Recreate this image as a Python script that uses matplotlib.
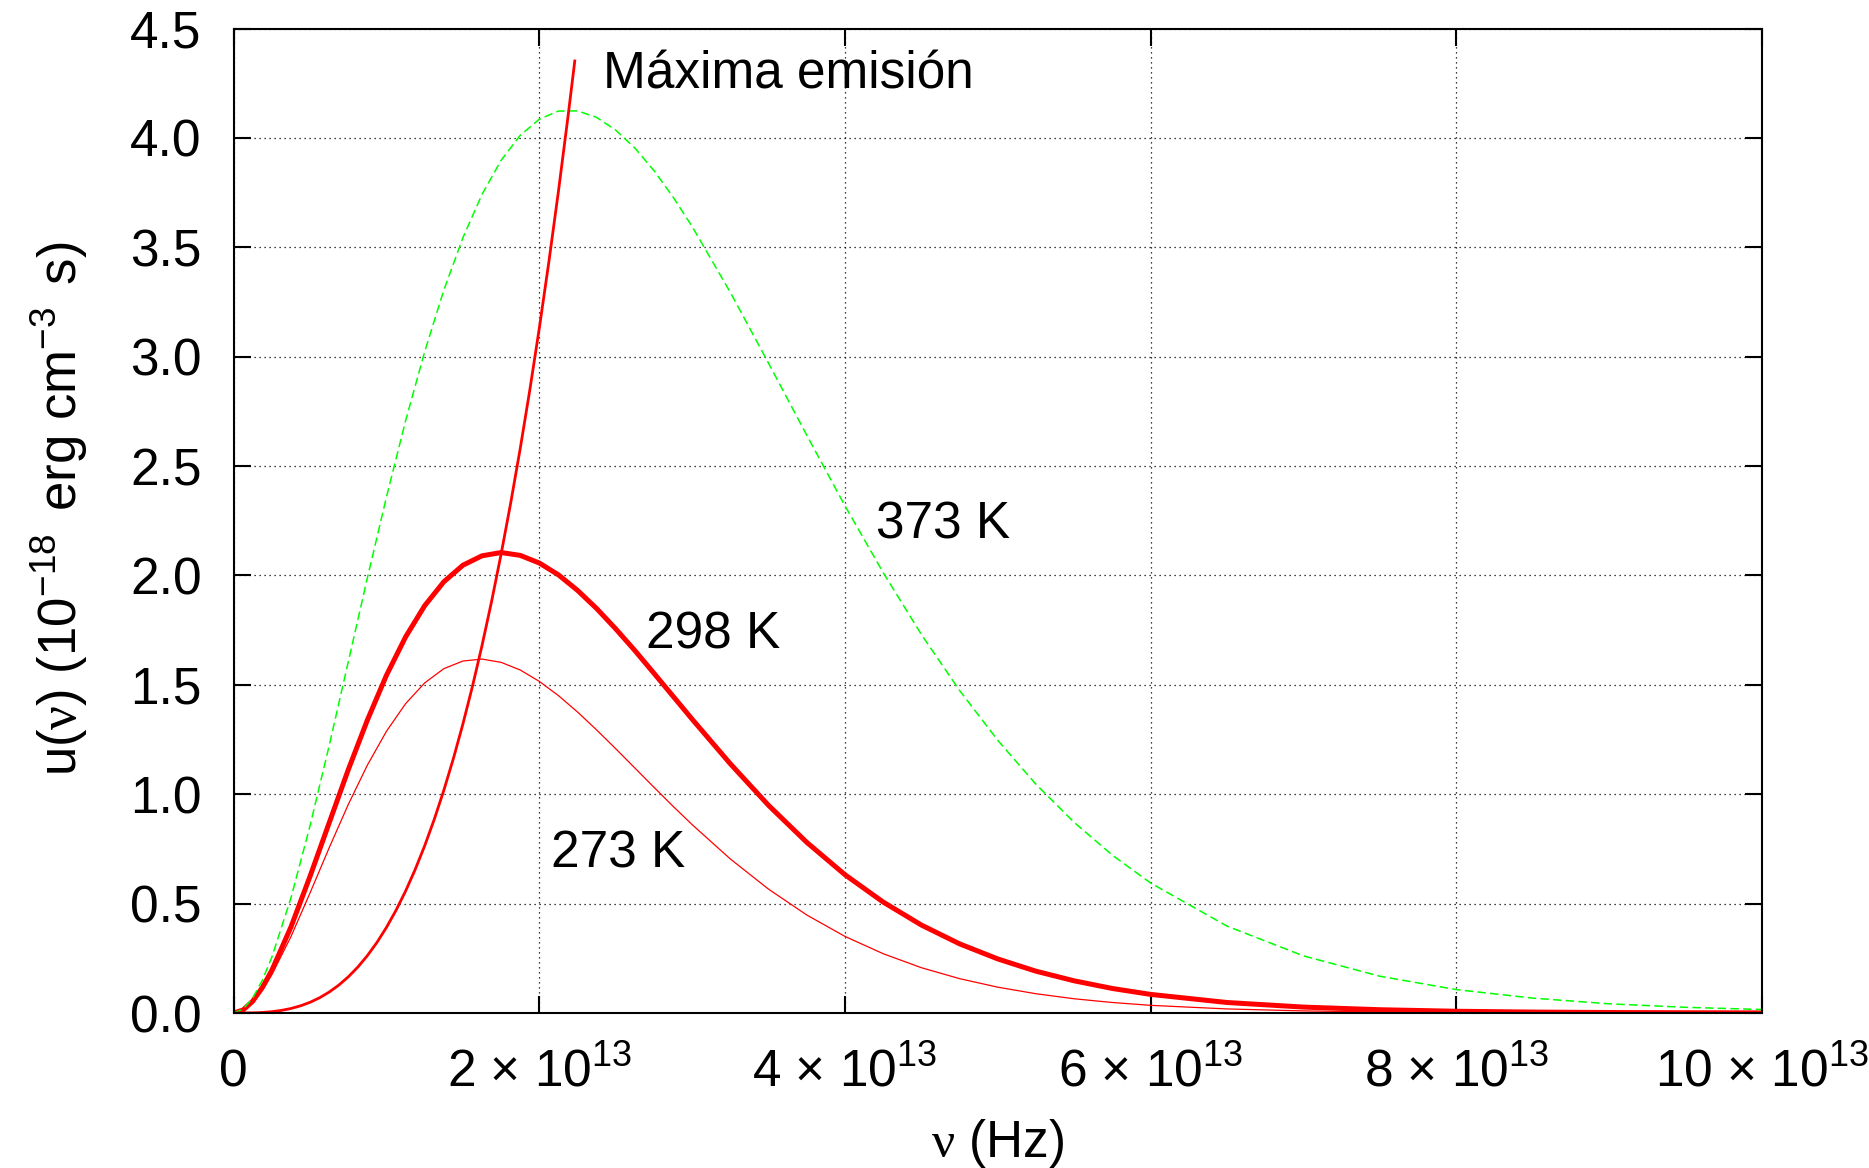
import matplotlib
matplotlib.use("Agg")
import matplotlib.pyplot as plt

# frequency in units of 1e13 Hz, u in units of 1e-18 erg cm^-3 s
nu = [0, 0.0625, 0.125, 0.1875, 0.25, 0.375, 0.5, 0.625, 0.75, 0.875, 1.0, 1.125, 1.25,
      1.375, 1.5, 1.625, 1.75, 1.875, 2.0, 2.125, 2.25, 2.375, 2.5, 2.625, 2.75, 2.875,
      3.0, 3.25, 3.5, 3.75, 4.0, 4.25, 4.5, 4.75, 5.0, 5.25, 5.5, 5.75, 6.0, 6.5, 7.0,
      7.5, 8.0, 8.5, 9.0, 9.5, 10.0]

u_273 = [0, 0.013, 0.049, 0.104, 0.175, 0.349, 0.549, 0.755, 0.953, 1.133, 1.288, 1.414,
         1.509, 1.574, 1.609, 1.618, 1.603, 1.568, 1.516, 1.451, 1.376, 1.294, 1.208, 1.120,
         1.032, 0.945, 0.861, 0.704, 0.566, 0.448, 0.350, 0.271, 0.207, 0.157, 0.118, 0.088,
         0.065, 0.048, 0.035, 0.0186, 0.0096, 0.0049, 0.0025, 0.0012, 0.0006, 0.0003, 0.0001]

u_298 = [0, 0.014, 0.054, 0.116, 0.195, 0.393, 0.625, 0.869, 1.112, 1.339, 1.544, 1.719,
         1.862, 1.971, 2.047, 2.090, 2.105, 2.092, 2.057, 2.003, 1.932, 1.849, 1.756, 1.657,
         1.553, 1.448, 1.343, 1.139, 0.949, 0.780, 0.632, 0.507, 0.402, 0.316, 0.247, 0.191,
         0.147, 0.112, 0.085, 0.048, 0.027, 0.015, 0.008, 0.0043, 0.0023, 0.0012, 0.0006]

u_373 = [0, 0.018, 0.069, 0.149, 0.255, 0.526, 0.856, 1.222, 1.605, 1.989, 2.359, 2.707,
         3.023, 3.304, 3.544, 3.742, 3.898, 4.012, 4.086, 4.123, 4.124, 4.094, 4.036, 3.954,
         3.851, 3.730, 3.595, 3.294, 2.970, 2.641, 2.318, 2.013, 1.730, 1.474, 1.246, 1.045,
         0.871, 0.721, 0.594, 0.397, 0.261, 0.168, 0.107, 0.068, 0.042, 0.026, 0.016]

# locus of the maxima
nu_max = [0, 0.0625, 0.125, 0.1875, 0.25, 0.3125, 0.375, 0.4375, 0.5, 0.5625, 0.625, 0.6875,
          0.75, 0.8125, 0.875, 0.9375, 1.0, 1.0625, 1.125, 1.1875, 1.25, 1.3125, 1.375,
          1.4375, 1.5, 1.5625, 1.625, 1.6875, 1.75, 1.8125, 1.875, 1.9375, 2.0, 2.0625,
          2.125, 2.1875, 2.232]
u_max = [0, 0.0001, 0.0008, 0.0026, 0.0061, 0.0119, 0.0206, 0.0328, 0.0489, 0.0697, 0.0956,
         0.1272, 0.1651, 0.2099, 0.2622, 0.3225, 0.3914, 0.4695, 0.5573, 0.6554, 0.7645,
         0.8850, 1.0175, 1.1626, 1.3210, 1.4931, 1.6795, 1.8808, 2.0977, 2.3305, 2.580,
         2.8466, 3.131, 3.4340, 3.756, 4.0970, 4.352]

xticks = [0, 2, 4, 6, 8, 10]
xtick_labels = ['0'] + [str(v) + ' × 10$^{13}$' for v in xticks[1:]]
yticks = [0, 0.5, 1.0, 1.5, 2.0, 2.5, 3.0, 3.5, 4.0, 4.5]

plt.rcParams['font.family'] = ['Liberation Sans', 'DejaVu Sans']
plt.rcParams['mathtext.fontset'] = 'custom'
plt.rcParams['mathtext.rm'] = 'Liberation Sans'
plt.rcParams['mathtext.it'] = 'Liberation Serif'
plt.rcParams['mathtext.default'] = 'regular'
fs = 37

fig = plt.figure(figsize=(18.69, 11.68), dpi=100)
ax = fig.add_axes([0.125, 0.1327, 0.8178, 0.8428])

ax.plot(nu, u_273, color='#ff0000', lw=0.9)
ax.plot(nu, u_298, color='#ff0000', lw=3.6)
ax.plot(nu, u_373, color='#00ff00', lw=1.1, dashes=(5.5, 2.8))
ax.plot(nu_max, u_max, color='#ff0000', lw=2.0)

ax.text(2.417, 4.224, 'Máxima emisión', fontsize=fs, va='baseline')
ax.text(4.203, 2.168, '373 K', fontsize=fs, va='baseline')
ax.text(2.699, 1.666, '298 K', fontsize=fs, va='baseline')
ax.text(2.075, 0.664, '273 K', fontsize=fs, va='baseline')

ax.set_xlim(0, 10)
ax.set_ylim(0, 4.5)
ax.set_xticks(xticks, xtick_labels)
ax.set_yticks(yticks, ['%.1f' % v for v in yticks])
plt.setp(ax.get_xticklabels(), va='baseline')

ax.tick_params(direction='in', length=12, width=1.5, top=True, right=True,
               labelsize=fs)
ax.tick_params(axis='x', pad=53)
ax.tick_params(axis='y', pad=23)
for s in ax.spines.values():
    s.set_linewidth(1.5)

ax.grid(True, color='black', linestyle=(0, (1, 3)), linewidth=0.9)

ax.set_xlabel(r'$\mathit{\nu}$ (Hz)', fontsize=fs)
ax.xaxis.label.set_va('baseline')
ax.xaxis.set_label_coords(0.5, -0.146)
ax.set_ylabel(r'u($\mathit{\nu}$) (10$^{-18}\,$ erg cm$^{-3}\,$ s)', fontsize=38)
ax.yaxis.set_label_coords(-0.094, 0.512)

fig.savefig('out.png', dpi=100)
